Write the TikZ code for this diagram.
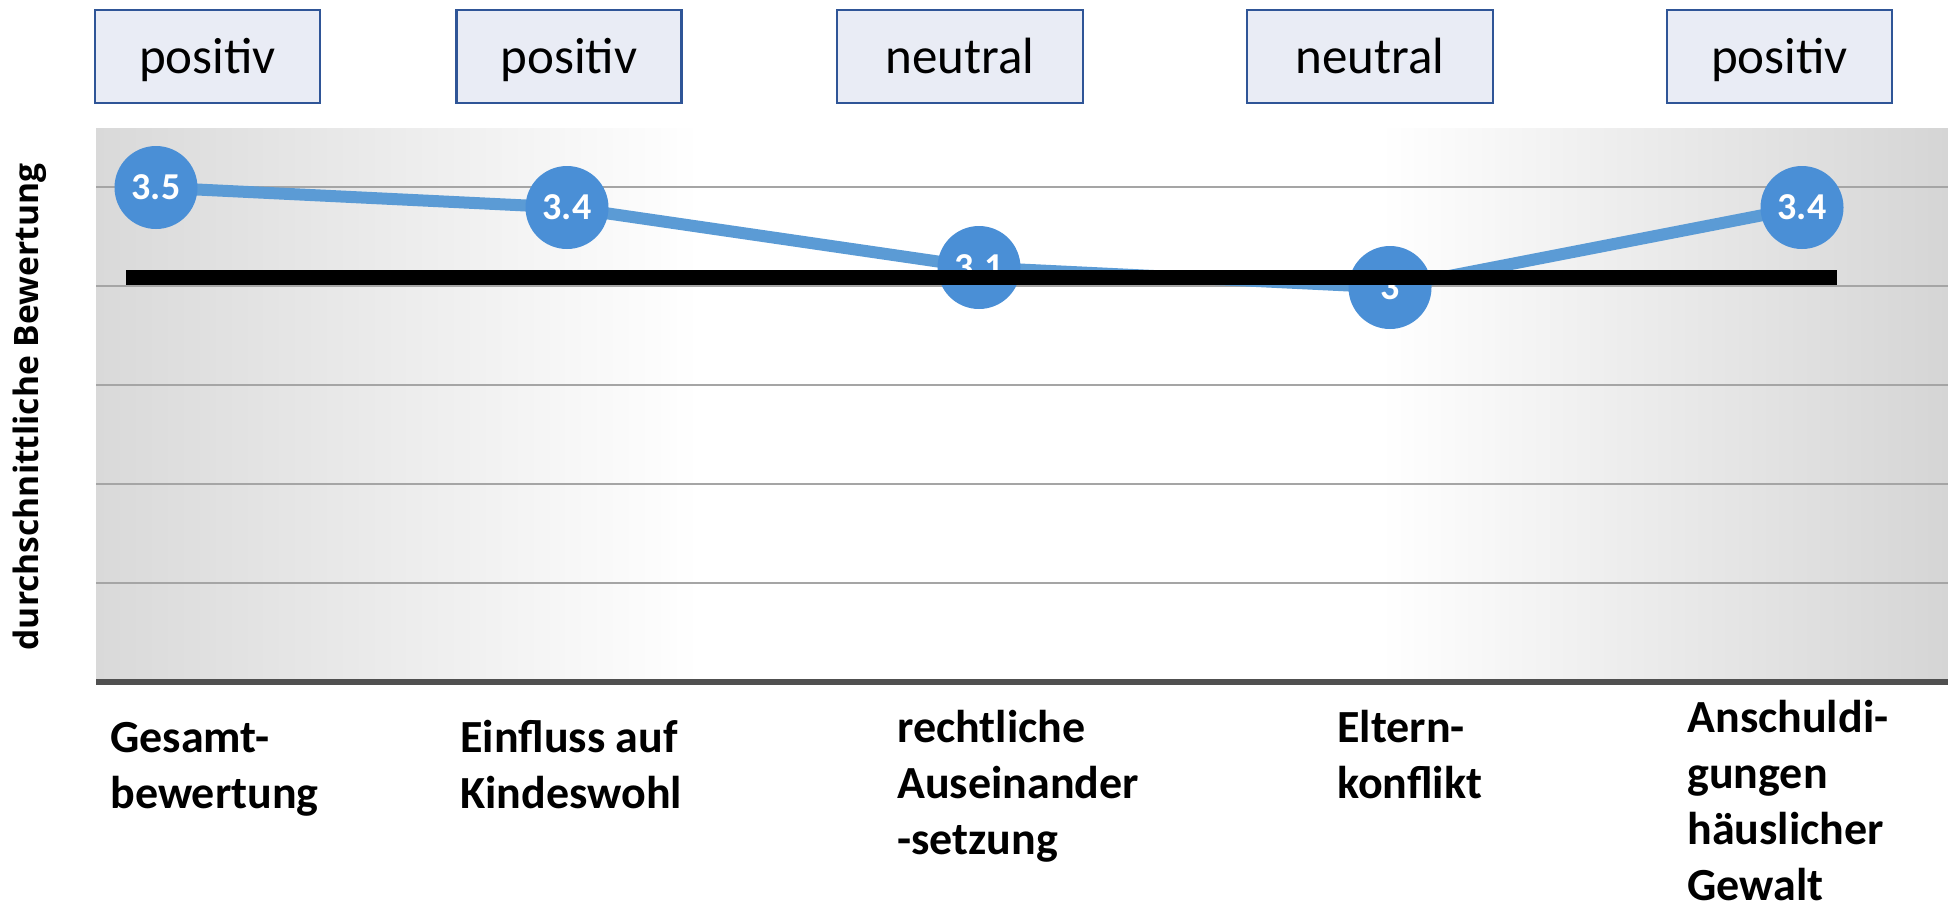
\documentclass[tikz,border=0pt]{standalone}
\usepackage{fontspec}
\setmainfont{Carlito}
\newfontfamily\ylabfont{Open Sans}
\definecolor{bggray}{HTML}{D9D9D9}
\definecolor{bggrayR}{HTML}{D5D5D5}
\definecolor{gridc}{HTML}{A5A5A5}
\definecolor{axisc}{HTML}{505050}
\definecolor{lineblue}{HTML}{5B9BD5}
\definecolor{dotblue}{HTML}{4A8FD6}
\definecolor{boxfill}{HTML}{E9ECF5}
\definecolor{boxdraw}{HTML}{2F5597}
\begin{document}
\begin{tikzpicture}[x=0.5pt,y=-0.5pt,
  gridline/.style={draw=gridc,line width=1.3pt},
  catbox/.style={draw=boxdraw,fill=boxfill,line width=1.25pt,minimum width=112.5pt,minimum height=46.5pt,inner sep=0pt,
    text height=17.9pt,text depth=1.3pt,font=\fontsize{25.5}{30}\selectfont},
  dot/.style={circle,fill=dotblue,minimum size=41.5pt,inner sep=0pt,text=white,font=\bfseries\fontsize{19}{19}\selectfont},
  dataline/.style={draw=lineblue,line width=6pt},
  meanline/.style={draw=black,line width=7.5pt},
  catlab/.style={anchor=base west,align=left,inner sep=0pt,font=\bfseries\fontsize{23}{28}\selectfont}]
\useasboundingbox (0,0) rectangle (1948,911);
% chart background
\shade[left color=bggray,right color=white] (96,128) rectangle (700,682);
\fill[white] (699,128) rectangle (1381,682);
\shade[left color=white,right color=bggrayR] (1380,128) rectangle (1948,682);
\foreach \y in {187,286,385,484,583} \draw[gridline] (96,\y) -- (1948,\y);
\draw[axisc,line width=3pt] (96,682) -- (1948,682);
% data
\coordinate (p1) at (156,187.5);
\coordinate (p2) at (567,207.5);
\coordinate (p3) at (979,267.5);
\coordinate (p4) at (1390,287.5);
\coordinate (p5) at (1802,207.5);
\draw[dataline] (p1) -- (p2) -- (p3) -- (p4) -- (p5);
\node[dot] (d1) at (p1) {3.5};
\node[dot] (d2) at (p2) {3.4};
\node[dot] (d3) at (p3) {3.1};
\node[dot] (d4) at (p4) {3};
\node[dot] (d5) at (p5) {3.4};
% mean line
\coordinate (m1) at (126,277);
\coordinate (m2) at (1837,277);
\draw[meanline] (m1) -- (m2);
% boxes
\node[catbox] (b1) at (207.5,56.5) {positiv};
\node[catbox] (b2) at (569,56.5) {positiv};
\node[catbox,minimum width=123pt] (b3) at (960,56.5) {neutral};
\node[catbox,minimum width=123pt] (b4) at (1370,56.5) {neutral};
\node[catbox] (b5) at (1779.5,56.5) {positiv};
% category labels (base = baseline of last line)
\node[catlab] (l1) at (110,808) {Gesamt-\\bewertung};
\node[catlab] (l2) at (460,808) {Einfluss auf\\Kindeswohl};
\node[catlab] (l3) at (897,854) {rechtliche\\Auseinander\\-setzung};
\node[catlab] (l4) at (1337,798) {Eltern-\\konflikt};
\node[catlab] (l5) at (1687,900) {Anschuldi-\\gungen\\häuslicher\\Gewalt};
% y axis label
\node[rotate=90,inner sep=0pt,font=\ylabfont\bfseries\fontsize{16.8}{20}\selectfont] (yl) at (30,407) {durchschnittliche Bewertung};
\end{tikzpicture}
\end{document}
